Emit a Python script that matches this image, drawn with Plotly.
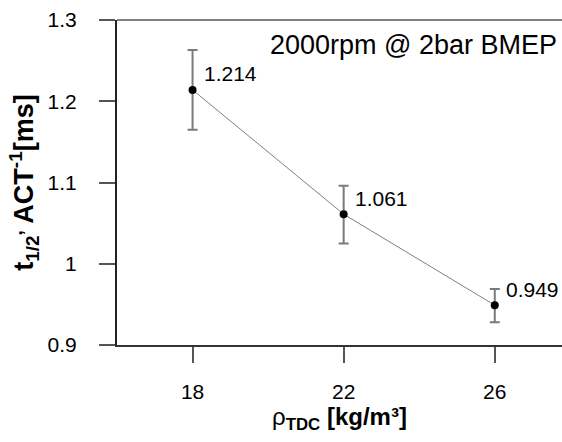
import plotly.graph_objects as go

rho = [18, 22, 26]
t_half = [1.214, 1.061, 0.949]
upper = [1.263, 1.096, 0.969]
lower = [1.165, 1.025, 0.928]
labels = ["1.214", "1.061", "0.949"]
x_ticks = [18, 22, 26]
y_ticks = [0.9, 1.0, 1.1, 1.2, 1.3]
y_tick_text = ["0.9", "1", "1.1", "1.2", "1.3"]

FONT = "Liberation Sans, Arial, sans-serif"

fig = go.Figure()
fig.add_trace(go.Scatter(
    x=rho, y=t_half, mode="lines+markers",
    line=dict(color="#808080", width=1),
    marker=dict(color="black", size=8),
    error_y=dict(type="data", symmetric=False,
                 array=[u - v for u, v in zip(upper, t_half)],
                 arrayminus=[v - l for v, l in zip(t_half, lower)],
                 color="#7a7a7a", thickness=2, width=5),
    showlegend=False,
))

for xv, yv, lab in zip(rho, t_half, labels):
    fig.add_annotation(x=xv, y=yv, text=lab, showarrow=False,
                       xanchor="left", yanchor="middle", xshift=9, yshift=16,
                       font=dict(family=FONT, size=21, color="black"))

fig.add_annotation(x=1.0, y=0.975, xref="paper", yref="paper",
                   text="2000rpm @ 2bar BMEP", showarrow=False,
                   xanchor="right", yanchor="top", xshift=-3,
                   font=dict(family=FONT, size=27, color="black"))

fig.add_shape(type="line", xref="paper", yref="paper", x0=0, x1=1, y0=1, y1=1,
              line=dict(color="#808080", width=2))

fig.update_layout(
    width=562, height=442,
    margin=dict(l=117, r=0, t=20, b=97),
    paper_bgcolor="white", plot_bgcolor="white",
    font=dict(family=FONT, color="black"),
    xaxis=dict(range=[16, 27.78], tickvals=x_ticks, ticktext=[str(v) for v in x_ticks],
               showgrid=False, zeroline=False, showline=True, linecolor="#333333", linewidth=2,
               ticks="outside", ticklen=16, tickwidth=1.5, tickcolor="#555555",
               tickfont=dict(size=21, family=FONT), ticklabelstandoff=11,
               title=dict(text="ρ<b><sub>TDC</sub> [kg/m³]</b>", standoff=2,
                          font=dict(size=24, family=FONT))),
    yaxis=dict(range=[0.9, 1.3], tickvals=y_ticks, ticktext=y_tick_text,
               showgrid=False, zeroline=False, showline=True, linecolor="#222222", linewidth=2,
               ticks="outside", ticklen=16, tickwidth=1.5, tickcolor="#555555",
               tickfont=dict(size=21, family=FONT), ticklabelstandoff=18,
               title=dict(text="<b>t<sub>1/2</sub><sup>,</sup> ACT<sup>-1</sup>[ms]</b>", standoff=6,
                          font=dict(size=27, family=FONT))),
)

fig.write_html("out.html")
